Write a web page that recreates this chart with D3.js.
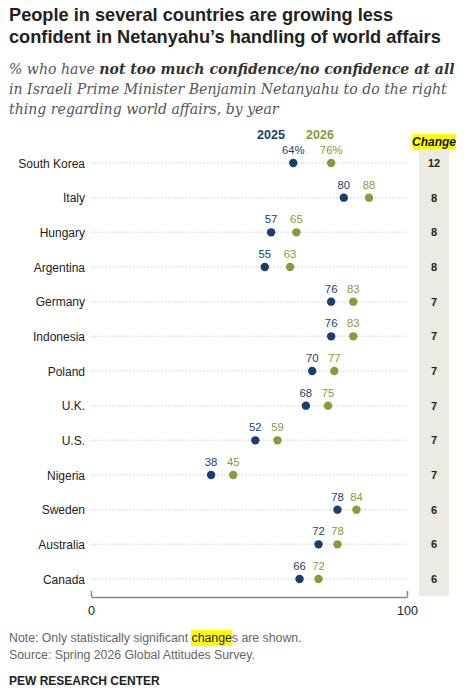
<!DOCTYPE html>
<html>
<head>
<meta charset="utf-8">
<script src="https://cdn.jsdelivr.net/npm/d3@7"></script>
<style>
  body { margin: 0; background: #fff; }
  svg { display: block; }
</style>
</head>
<body>
<div id="chart"></div>
<script>
const countries = ["South Korea", "Italy", "Hungary", "Argentina", "Germany", "Indonesia", "Poland",
  "U.K.", "U.S.", "Nigeria", "Sweden", "Australia", "Canada"];
const values2025 = [64, 80, 57, 55, 76, 76, 70, 68, 52, 38, 78, 72, 66];
const values2026 = [76, 88, 65, 63, 83, 83, 77, 75, 59, 45, 84, 78, 72];
const changes = [12, 8, 8, 8, 7, 7, 7, 7, 7, 7, 6, 6, 6];
const xTicks = [0, 100];

const width = 467, height = 690;
const blue = "#1b3e70", olive = "#8c993b";
const sans = "'Liberation Sans', Arial, sans-serif";

const svg = d3.select("#chart").append("svg")
  .attr("width", width)
  .attr("height", height);

// Title
const title = svg.append("text")
  .style("font-family", sans)
  .style("font-weight", "bold")
  .style("font-size", "18.2px")
  .style("fill", "#222");
title.append("tspan").attr("x", 9).attr("y", 21).text("People in several countries are growing less");
title.append("tspan").attr("x", 9).attr("y", 43).text("confident in Netanyahu\u2019s handling of world affairs");

// Subtitle
const sub = svg.append("text")
  .style("font-family", "'DejaVu Serif', Georgia, serif")
  .style("font-style", "italic")
  .style("font-size", "14.1px")
  .style("fill", "#555");
const l1 = sub.append("tspan").attr("x", 9).attr("y", 74);
l1.append("tspan").text("% who have ");
l1.append("tspan").style("font-weight", "bold").style("fill", "#333").text("not too much confidence/no confidence at all");
sub.append("tspan").attr("x", 9).attr("y", 94).text("in Israeli Prime Minister Benjamin Netanyahu to do the right");
sub.append("tspan").attr("x", 9).attr("y", 114).text("thing regarding world affairs, by year");

// Scales
const x = d3.scaleLinear().domain([0, 100]).range([91, 407]);
const y = d3.scalePoint().domain(countries).range([163, 579]);

// Change column
svg.append("rect")
  .attr("x", 419).attr("y", 149)
  .attr("width", 30).attr("height", 447)
  .attr("fill", "#ecebe2");
svg.append("rect")
  .attr("x", 412).attr("y", 134)
  .attr("width", 44).attr("height", 15)
  .attr("fill", "#ffff00");
svg.append("text")
  .attr("x", 434).attr("y", 146)
  .attr("text-anchor", "middle")
  .style("font-family", sans)
  .style("font-weight", "bold")
  .style("font-style", "italic")
  .style("font-size", "12px")
  .style("fill", "#111")
  .text("Change");

// Legend
svg.append("text")
  .attr("x", 271).attr("y", 139)
  .attr("text-anchor", "middle")
  .style("font-family", sans).style("font-weight", "bold").style("font-size", "12.5px")
  .style("fill", blue).text("2025");
svg.append("text")
  .attr("x", 320).attr("y", 139)
  .attr("text-anchor", "middle")
  .style("font-family", sans).style("font-weight", "bold").style("font-size", "12.5px")
  .style("fill", olive).text("2026");

const rows = svg.append("g").selectAll("g")
  .data(countries)
  .join("g")
  .attr("transform", d => `translate(0, ${y(d)})`);

// Dotted guides
rows.append("line")
  .attr("x1", x(0)).attr("x2", x(100))
  .attr("stroke", "#e2e2e2")
  .attr("stroke-width", 1.5)
  .attr("stroke-dasharray", "2,1.5");

// Country labels
rows.append("text")
  .attr("x", 85).attr("y", 4.5)
  .attr("text-anchor", "end")
  .style("font-family", sans).style("font-size", "12px")
  .style("fill", "#222")
  .text(d => d);

// Dots
rows.append("circle")
  .attr("cx", (d, i) => x(values2025[i]))
  .attr("r", 4.2)
  .attr("fill", blue);
rows.append("circle")
  .attr("cx", (d, i) => x(values2026[i]))
  .attr("r", 4.2)
  .attr("fill", olive);

// Value labels
rows.append("text")
  .attr("x", (d, i) => x(values2025[i]))
  .attr("y", -9)
  .attr("text-anchor", "middle")
  .style("font-family", sans).style("font-size", "11.3px")
  .style("fill", blue)
  .text((d, i) => values2025[i] + (i === 0 ? "%" : ""));
rows.append("text")
  .attr("x", (d, i) => x(values2026[i]))
  .attr("y", -9)
  .attr("text-anchor", "middle")
  .style("font-family", sans).style("font-size", "11.3px")
  .style("fill", olive)
  .text((d, i) => values2026[i] + (i === 0 ? "%" : ""));

// Change values
rows.append("text")
  .attr("x", 434).attr("y", 4)
  .attr("text-anchor", "middle")
  .style("font-family", sans).style("font-weight", "bold").style("font-size", "11px")
  .style("fill", "#222")
  .text((d, i) => changes[i]);

// X axis
const axis = svg.append("g")
  .attr("transform", "translate(0, 597)")
  .call(d3.axisBottom(x).tickValues(xTicks).tickSize(-6).tickPadding(9).tickSizeOuter(0));
axis.select(".domain").attr("stroke", "#888").attr("stroke-width", 1.5);
axis.selectAll(".tick line").attr("stroke", "#888").attr("stroke-width", 1.5);
axis.selectAll("text")
  .style("font-family", sans).style("font-size", "12.5px")
  .style("fill", "#222");

// Notes
const hl = svg.append("rect").attr("fill", "#ffff00");
const note = svg.append("text")
  .attr("x", 9).attr("y", 642)
  .style("font-family", sans).style("font-size", "12.3px")
  .style("fill", "#666");
const pre = note.append("tspan").text("Note: Only statistically significant ");
const word = note.append("tspan").style("fill", "#222").text("change");
note.append("tspan").text("s are shown.");
const preW = pre.node().getComputedTextLength();
const wordW = word.node().getComputedTextLength();
hl.attr("x", 9 + preW - 0.5).attr("y", 630).attr("width", wordW + 1).attr("height", 16);

svg.append("text")
  .attr("x", 9).attr("y", 659)
  .style("font-family", sans).style("font-size", "12.3px")
  .style("fill", "#666")
  .text("Source: Spring 2026 Global Attitudes Survey.");
svg.append("text")
  .attr("x", 9).attr("y", 685)
  .style("font-family", sans).style("font-weight", "bold").style("font-size", "12px")
  .style("fill", "#222")
  .text("PEW RESEARCH CENTER");
</script>
</body>
</html>
